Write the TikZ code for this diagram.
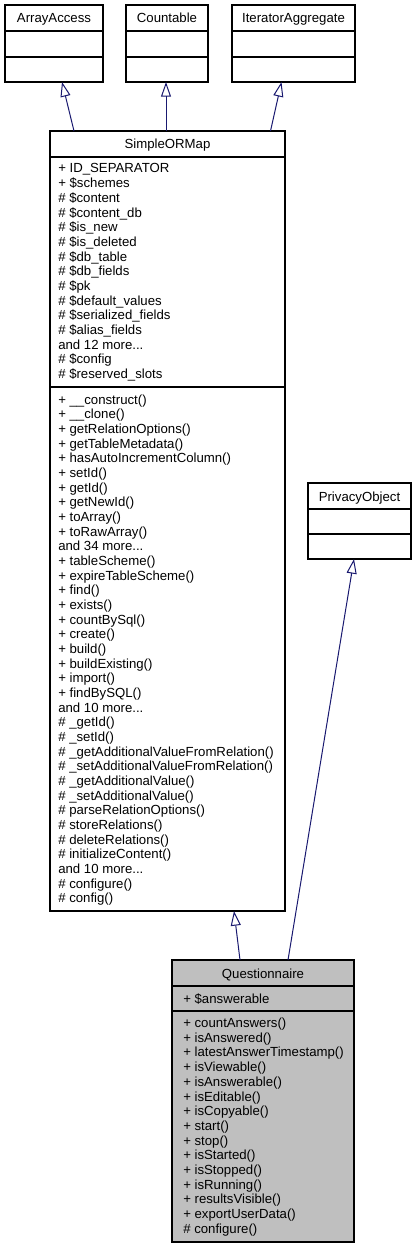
\documentclass[tikz,border=0pt]{standalone}
\usepackage{fontspec}
\setmainfont{Liberation Sans}
\usetikzlibrary{arrows.meta,calc}
\definecolor{edgeblue}{HTML}{191970}
\definecolor{qfill}{HTML}{BFBFBF}
\newcommand\moredots{...}
\begin{document}
\begin{tikzpicture}[x=0.75pt,y=-0.75pt,
  classbox/.style={draw=black, line width=0.8pt, inner sep=0pt, outer sep=0pt, anchor=north west},
  divider/.style={draw=black, line width=0.8pt},
  member/.style={anchor=base west, inner sep=0pt, font=\fontsize{9.9}{10.4}\selectfont},
  ctitle/.style={anchor=base, inner sep=0pt, font=\fontsize{9.9}{10.4}\selectfont},
  inh/.style={draw=edgeblue, line width=0.75pt, -{Triangle[open, length=11pt, width=7.5pt]}}]
\fill[white] (0,0) rectangle (418,1248);
\useasboundingbox (0,0) rectangle (418,1248);

% ArrayAccess
\node[classbox, minimum width=73.5pt, minimum height=57.75pt] (aa) at (5,5) {};
\draw[divider] ($(aa.north west)+(0,26)$) -- ($(aa.north east)+(0,26)$);
\draw[divider] ($(aa.north west)+(0,52)$) -- ($(aa.north east)+(0,52)$);
\node[ctitle] (aaT) at ($(aa.north)+(0,18)$) {ArrayAccess};

% Countable
\node[classbox, minimum width=61.5pt, minimum height=57.75pt] (cnt) at (126,5) {};
\draw[divider] ($(cnt.north west)+(0,26)$) -- ($(cnt.north east)+(0,26)$);
\draw[divider] ($(cnt.north west)+(0,52)$) -- ($(cnt.north east)+(0,52)$);
\node[ctitle] (cntT) at ($(cnt.north)+(0,18)$) {Countable};

% IteratorAggregate
\node[classbox, minimum width=92.25pt, minimum height=57.75pt] (ia) at (232,5) {};
\draw[divider] ($(ia.north west)+(0,26)$) -- ($(ia.north east)+(0,26)$);
\draw[divider] ($(ia.north west)+(0,52)$) -- ($(ia.north east)+(0,52)$);
\node[ctitle] (iaT) at ($(ia.north)+(0,18)$) {IteratorAggregate};

% SimpleORMap
\node[classbox, minimum width=176.25pt, minimum height=585pt] (sorm) at (50,131) {};
\draw[divider] ($(sorm.north west)+(0,26)$) -- ($(sorm.north east)+(0,26)$);
\draw[divider] ($(sorm.north west)+(0,256)$) -- ($(sorm.north east)+(0,256)$);
\node[ctitle] (sormT) at ($(sorm.north)+(0,18)$) {SimpleORMap};
\foreach \t [count=\i from 0] in {+ ID\_SEPARATOR, + \$schemes, \# \$content, \# \$content\_db, \# \$is\_new, \# \$is\_deleted, \# \$db\_table, \# \$db\_fields, \# \$pk, \# \$default\_values, \# \$serialized\_fields, \# \$alias\_fields, and 12 more\moredots, \# \$config, \# \$reserved\_slots}
  \node[member] (sa\i) at (58,{173+\i*14.67}) {\t};
\foreach \t [count=\i from 0] in {+ \_\_construct(), + \_\_clone(), + getRelationOptions(), + getTableMetadata(), + hasAutoIncrementColumn(), + setId(), + getId(), + getNewId(), + toArray(), + toRawArray(), and 34 more\moredots, + tableScheme(), + expireTableScheme(), + find(), + exists(), + countBySql(), + create(), + build(), + buildExisting(), + import(), + findBySQL(), and 10 more\moredots, \# \_getId(), \# \_setId(), \# \_getAdditionalValueFromRelation(), \# \_setAdditionalValueFromRelation(), \# \_getAdditionalValue(), \# \_setAdditionalValue(), \# parseRelationOptions(), \# storeRelations(), \# deleteRelations(), \# initializeContent(), and 10 more\moredots, \# configure(), \# config()}
  \node[member] (sm\i) at (58,{404+\i*14.67}) {\t};

% PrivacyObject
\node[classbox, minimum width=77.25pt, minimum height=57pt] (po) at (308,483) {};
\draw[divider] ($(po.north west)+(0,26)$) -- ($(po.north east)+(0,26)$);
\draw[divider] ($(po.north west)+(0,51)$) -- ($(po.north east)+(0,51)$);
\node[ctitle] (poT) at ($(po.north)+(0,18)$) {PrivacyObject};

% Questionnaire
\node[classbox, fill=qfill, minimum width=136.5pt, minimum height=211.5pt] (q) at (172,960) {};
\draw[divider] ($(q.north west)+(0,26)$) -- ($(q.north east)+(0,26)$);
\draw[divider] ($(q.north west)+(0,51)$) -- ($(q.north east)+(0,51)$);
\node[ctitle] (qT) at ($(q.north)+(0,18)$) {Questionnaire};
\node[member] (qa0) at (183,1003) {+ \$answerable};
\foreach \t [count=\i from 0] in {+ countAnswers(), + isAnswered(), + latestAnswerTimestamp(), + isViewable(), + isAnswerable(), + isEditable(), + isCopyable(), + start(), + stop(), + isStarted(), + isStopped(), + isRunning(), + resultsVisible(), + exportUserData(), \# configure()}
  \node[member] (qm\i) at (183,{1027.5+\i*14.7}) {\t};

% inheritance connectors
\draw[inh] ($(sorm.north west)+(24,0)$) -- ($(aa.south west)+(57,0)$);
\draw[inh] ($(sorm.north west)+(116,0)$) -- ($(cnt.south west)+(40,0)$);
\draw[inh] ($(sorm.north west)+(220.5,0)$) -- ($(ia.south west)+(49.5,0)$);
\draw[inh] ($(q.north west)+(68,0)$) -- ($(sorm.south west)+(184,0)$);
\draw[inh] ($(q.north west)+(116,0)$) -- ($(po.south west)+(46,0)$);
\end{tikzpicture}
\end{document}
